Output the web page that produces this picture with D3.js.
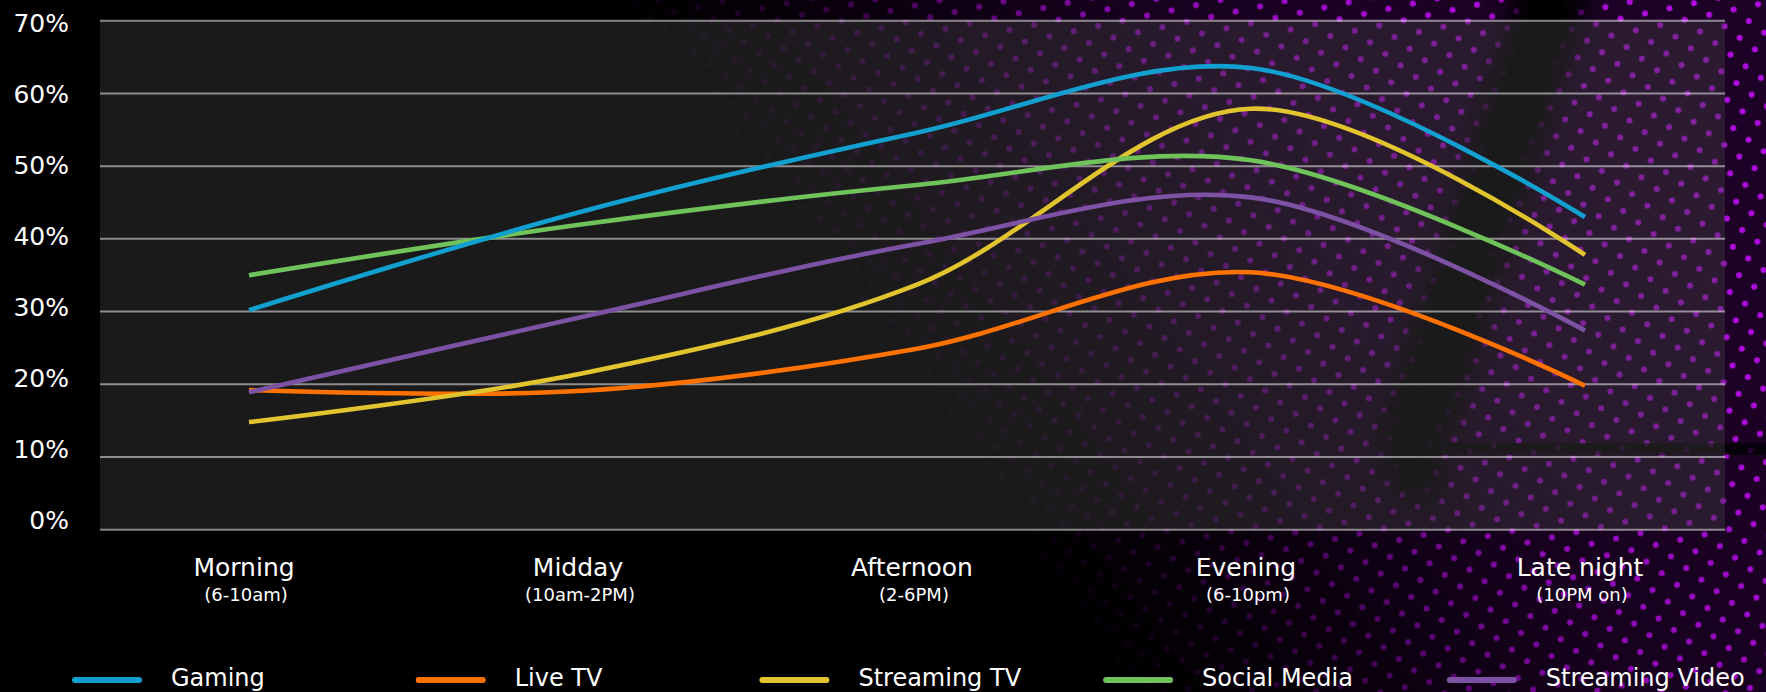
<!DOCTYPE html>
<html>
<head>
<meta charset="utf-8">
<script src="https://cdn.jsdelivr.net/npm/d3@7"></script>
<style>
  html, body { margin: 0; padding: 0; background: #000; }
  svg { display: block; }
  text { font-family: "DejaVu Sans", sans-serif; fill: #fff; }
</style>
</head>
<body>
<svg id="chart" width="1766" height="692"></svg>
<script>
// ---- data ----
const categories = ["Morning", "Midday", "Afternoon", "Evening", "Late night"];
const subLabels = ["(6-10am)", "(10am-2PM)", "(2-6PM)", "(6-10pm)", "(10PM on)"];
const seriesNames = ["Gaming", "Live TV", "Streaming TV", "Social Media", "Streaming Video"];
const gaming         = [30.2, 43.8, 54.6, 63.5, 43.0];
const liveTV         = [19.2, 19.1, 24.9, 35.4, 19.8];
const streamingTV    = [14.8, 21.5, 33.7, 57.9, 37.8];
const socialMedia    = [35.0, 42.0, 47.4, 50.8, 33.7];
const streamingVideo = [18.9, 29.3, 39.3, 45.7, 27.4];
const yTicks = [0, 10, 20, 30, 40, 50, 60, 70];
const seriesColors = ["#11a0cf", "#ff7200", "#e2c52e", "#6fc35a", "#7d52a5"];

const seriesValues = [gaming, liveTV, streamingTV, socialMedia, streamingVideo];

// ---- layout ----
const W = 1766, H = 692;
const plot = { left: 100, right: 1725, top: 20.7, bottom: 529.7 };

const svg = d3.select("#chart");
const defs = svg.append("defs");

// dot halftone pattern
const pat = defs.append("pattern")
  .attr("id", "dots").attr("patternUnits", "userSpaceOnUse")
  .attr("width", 25).attr("height", 29)
  .attr("patternTransform", "rotate(-12)");
pat.append("rect").attr("width", 25).attr("height", 29).attr("fill", "#1d0126");
pat.append("circle").attr("cx", 6.25).attr("cy", 7.25).attr("r", 3).attr("fill", "#b00ce0");
pat.append("circle").attr("cx", 18.75).attr("cy", 21.75).attr("r", 3).attr("fill", "#b00ce0");

// fade gradient (diagonal)
const fade = defs.append("linearGradient").attr("id", "fade")
  .attr("gradientUnits", "userSpaceOnUse")
  .attr("x1", 860).attr("y1", 350).attr("x2", 1420).attr("y2", -70);
fade.append("stop").attr("offset", 0).attr("stop-color", "#fff").attr("stop-opacity", 0);
fade.append("stop").attr("offset", 0.25).attr("stop-color", "#fff").attr("stop-opacity", 0.3);
fade.append("stop").attr("offset", 0.6).attr("stop-color", "#fff").attr("stop-opacity", 0.8);
fade.append("stop").attr("offset", 1).attr("stop-color", "#fff").attr("stop-opacity", 1);

const blur = defs.append("filter").attr("id", "blur")
  .attr("x", "-50%").attr("y", "-50%").attr("width", "200%").attr("height", "200%");
blur.append("feGaussianBlur").attr("stdDeviation", 12);
const blur2 = defs.append("filter").attr("id", "blur2")
  .attr("x", "-50%").attr("y", "-50%").attr("width", "200%").attr("height", "200%");
blur2.append("feGaussianBlur").attr("stdDeviation", 7);

const mask = defs.append("mask").attr("id", "bgmask")
  .attr("maskUnits", "userSpaceOnUse").attr("x", 0).attr("y", 0).attr("width", W).attr("height", H);
mask.append("rect").attr("width", W).attr("height", H).attr("fill", "url(#fade)");
// dark swoosh band
mask.append("path")
  .attr("d", "M1560,-30 L1420,420 Q1405,470 1440,470")
  .attr("fill", "none").attr("stroke", "#000").attr("stroke-width", 70)
  .attr("filter", "url(#blur)");
mask.append("path")
  .attr("d", "M1430,452 Q1500,440 1800,452")
  .attr("fill", "none").attr("stroke", "#000").attr("stroke-width", 22)
  .attr("stroke-opacity", 0.85)
  .attr("filter", "url(#blur2)");

// ---- background ----
svg.append("rect").attr("width", W).attr("height", H).attr("fill", "#000");
svg.append("rect").attr("width", W).attr("height", H)
  .attr("fill", "url(#dots)").attr("mask", "url(#bgmask)");

// plot area (translucent)
svg.append("rect")
  .attr("x", plot.left).attr("y", plot.top)
  .attr("width", plot.right - plot.left).attr("height", plot.bottom - plot.top)
  .attr("fill", "rgb(64,64,64)").attr("fill-opacity", 0.4);

// ---- scales ----
const x = d3.scalePoint().domain(categories).range([249, 1585]);
const y = d3.scaleLinear().domain([0, 70]).range([plot.bottom, plot.top]);
const yLabel = d3.scaleLinear().domain([0, 70]).range([529, 32.3]);

// gridlines
svg.append("g").selectAll("line").data(yTicks).join("line")
  .attr("x1", plot.left).attr("x2", plot.right)
  .attr("y1", d => y(d)).attr("y2", d => y(d))
  .attr("stroke", "#fff").attr("stroke-opacity", 0.5).attr("stroke-width", 2);

// y tick labels
svg.append("g").selectAll("text").data(yTicks).join("text")
  .attr("x", 69).attr("y", d => yLabel(d))
  .attr("text-anchor", "end").attr("font-size", 25)
  .text(d => d + "%");

// x category labels
const xl = svg.append("g");
xl.selectAll("text.cat").data(categories).join("text").attr("class", "cat")
  .attr("x", d => x(d) - 5).attr("y", 576)
  .attr("text-anchor", "middle").attr("font-size", 25)
  .text(d => d);
xl.selectAll("text.sub").data(subLabels).join("text").attr("class", "sub")
  .attr("x", (d, i) => x(categories[i]) - 3).attr("y", 601)
  .attr("text-anchor", "middle").attr("font-size", 18)
  .text(d => d);

// ---- lines ----
const line = d3.line()
  .x((d, i) => x(categories[i]))
  .y(d => y(d))
  .curve(d3.curveCatmullRom.alpha(0.5));

const drawOrder = [1, 2, 4, 3, 0];
svg.append("g").selectAll("path").data(drawOrder).join("path")
  .attr("d", k => line(seriesValues[k]))
  .attr("fill", "none")
  .attr("stroke", k => seriesColors[k])
  .attr("stroke-width", 4.6);

// ---- legend ----
const leg = svg.append("g").selectAll("g").data(seriesNames).join("g")
  .attr("transform", (d, i) => `translate(${72 + i * 343.7},0)`);
leg.append("line")
  .attr("x1", 3).attr("x2", 67).attr("y1", 680).attr("y2", 680)
  .attr("stroke", (d, i) => seriesColors[i])
  .attr("stroke-width", 6).attr("stroke-linecap", "round");
leg.append("text")
  .attr("x", 99).attr("y", 686).attr("font-size", 24)
  .text(d => d);
</script>
</body>
</html>
